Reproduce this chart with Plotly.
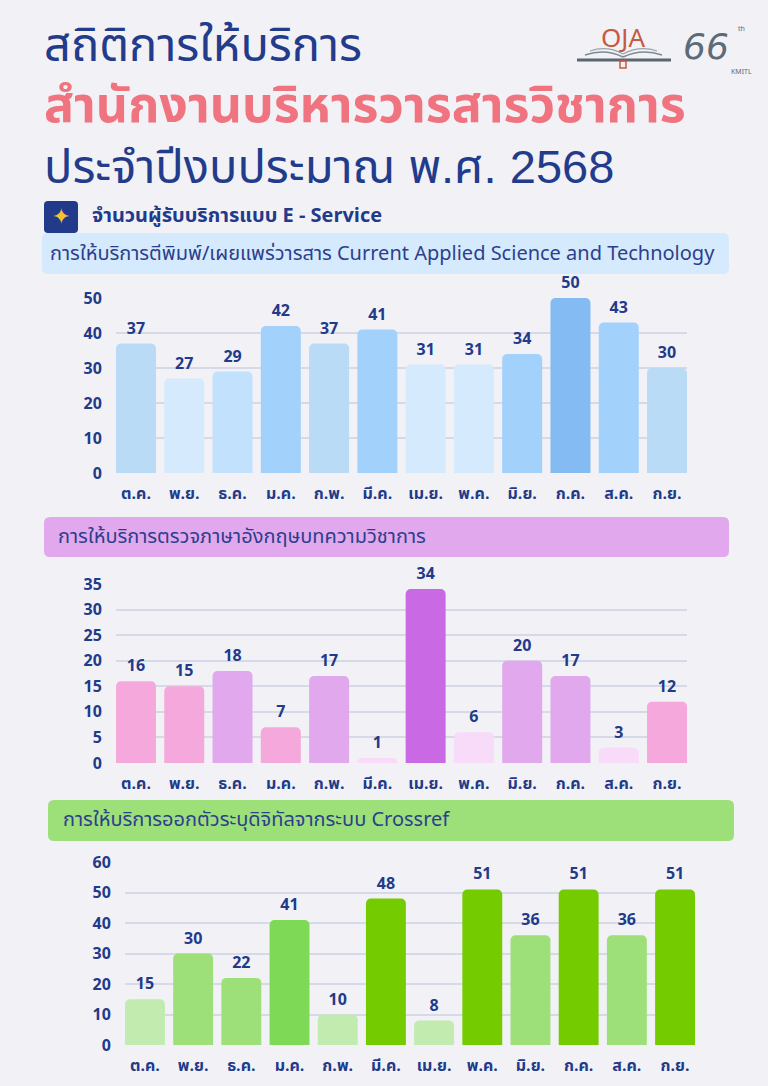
import plotly.graph_objects as go

W, H = 768, 1086

months = ["ต.ค.", "พ.ย.", "ธ.ค.", "ม.ค.", "ก.พ.", "มี.ค.", "เม.ย.", "พ.ค.", "มิ.ย.", "ก.ค.", "ส.ค.", "ก.ย."]

# การให้บริการตีพิมพ์/เผยแพร่วารสาร
journal_vals = [37, 27, 29, 42, 37, 41, 31, 31, 34, 50, 43, 30]
journal_cols = ["#b9dbf6", "#d6eafe", "#c2e1fd", "#a2d1fc", "#b9dbf6", "#a2d1fc",
                "#d6eafe", "#d6eafe", "#a2d1fc", "#84bbf2", "#a2d1fc", "#b9dbf6"]

# การตรวจภาษาอังกฤษ
english_vals = [16, 15, 18, 7, 17, 1, 34, 6, 20, 17, 3, 12]
english_cols = ["#f4a8dc", "#f4a8dc", "#e2a8ee", "#f4a8dc", "#e2a8ee", "#f8dbf9",
                "#c96ae4", "#f8dbf9", "#e2a8ee", "#e2a8ee", "#f8dbf9", "#f4a8dc"]

# Crossref DOI
doi_vals = [15, 30, 22, 41, 10, 48, 8, 51, 36, 51, 36, 51]
doi_cols = ["#c1ebaf", "#9de07a", "#9de07a", "#7ed957", "#c1ebaf", "#73cb00",
            "#c1ebaf", "#73cb00", "#9de07a", "#73cb00", "#9de07a", "#73cb00"]

NAVY = "#213a8a"
BG = "#f1f1f6"
FONT = "Noto Sans Thai, Kanit, Prompt, Noto Sans, sans-serif"
TITLE_FONT = "Liberation Sans, Noto Sans Thai, sans-serif"


def px(x):
    return x / W


def py(y):
    return 1 - y / H


def rounded_box(x0, y0, x1, y1, r, color):
    rx, ry = r / W, r / H
    a0, b0, a1, b1 = px(x0), py(y1), px(x1), py(y0)
    path = (f"M {a0+rx},{b0} L {a1-rx},{b0} Q {a1},{b0} {a1},{b0+ry} "
            f"L {a1},{b1-ry} Q {a1},{b1} {a1-rx},{b1} L {a0+rx},{b1} "
            f"Q {a0},{b1} {a0},{b1-ry} L {a0},{b0+ry} Q {a0},{b0} {a0+rx},{b0} Z")
    return dict(type="path", path=path, xref="paper", yref="paper",
                fillcolor=color, line=dict(width=0), layer="below")


fig = go.Figure()

charts = [
    (journal_vals, journal_cols, 116, 687, 473, 298, 50, 10),
    (english_vals, english_cols, 116, 687, 763, 584, 35, 5),
    (doi_vals, doi_cols, 125, 695, 1045, 862, 60, 10),
]

layout_axes = {}
for i, (vals, cols, xl, xr, y0, ytop, ymax, dt) in enumerate(charts, start=1):
    sfx = "" if i == 1 else str(i)
    fig.add_trace(go.Bar(
        x=months, y=vals, marker=dict(color=cols, line=dict(width=0)),
        text=[str(v) for v in vals], textposition="outside",
        textfont=dict(family=FONT, size=16, color=NAVY, weight="bold"),
        cliponaxis=False, xaxis="x" + sfx, yaxis="y" + sfx, hoverinfo="skip",
    ))
    g = 0.172
    layout_axes["xaxis" + sfx] = dict(
        domain=[px(xl), px(xr)], anchor="y" + sfx, type="category",
        range=[-(1 - g) / 2, 11 + (1 - g) / 2], showgrid=False, zeroline=False,
        showline=False, ticks="outside", ticklen=6, tickcolor="rgba(0,0,0,0)",
        tickfont=dict(family=FONT, size=16, color=NAVY, weight="bold"),
        fixedrange=True, automargin=False,
    )
    layout_axes["yaxis" + sfx] = dict(
        domain=[py(y0), py(ytop)], anchor="x" + sfx, range=[0, ymax], dtick=dt,
        showgrid=True, gridcolor="#d6d9e8", gridwidth=2, zeroline=False,
        showline=False, ticks="outside", ticklen=10, tickcolor="rgba(0,0,0,0)",
        tickfont=dict(family=FONT, size=16, color=NAVY, weight="bold"),
        fixedrange=True, automargin=False,
    )

shapes = [
    rounded_box(42, 233, 729, 274, 6, "#d6eafd"),
    rounded_box(44, 517, 729, 557, 6, "#e2a8ee"),
    rounded_box(48, 800, 734, 841, 6, "#9de07a"),
    rounded_box(44, 201, 78, 233, 4, "#213a8a"),
    # book logo lines
    dict(type="line", xref="paper", yref="paper", x0=px(577), x1=px(671), y0=py(60), y1=py(60),
         line=dict(color="#5a6670", width=3)),
    dict(type="path", xref="paper", yref="paper",
         path=f"M {px(585)},{py(55)} Q {px(605)},{py(48)} {px(623)},{py(57)}",
         line=dict(color="#7f8a93", width=1.5)),
    dict(type="path", xref="paper", yref="paper",
         path=f"M {px(623)},{py(57)} Q {px(642)},{py(48)} {px(662)},{py(55)}",
         line=dict(color="#7f8a93", width=1.5)),
    dict(type="path", xref="paper", yref="paper",
         path=f"M {px(590)},{py(51)} Q {px(607)},{py(45)} {px(623)},{py(54)}",
         line=dict(color="#9aa3ab", width=1.2)),
    dict(type="path", xref="paper", yref="paper",
         path=f"M {px(623)},{py(54)} Q {px(640)},{py(45)} {px(657)},{py(51)}",
         line=dict(color="#9aa3ab", width=1.2)),
    dict(type="rect", xref="paper", yref="paper", x0=px(620), x1=px(626), y0=py(68), y1=py(61),
         line=dict(color="#c65a40", width=1.5), fillcolor="rgba(0,0,0,0)"),
]

title_html = ("สถิติการให้บริการ<br>"
              "<b><span style='color:#f07480;font-size:50px'>สำนักงานบริหารวารสารวิชาการ</span></b><br>"
              "ประจำปีงบประมาณ พ.ศ. 2568")

annotations = [
    dict(text=title_html, x=px(42), y=py(106), xanchor="left", yanchor="middle", align="left",
         font=dict(family=TITLE_FONT, size=47, color="#233b8b")),
    dict(text="<b>จำนวนผู้รับบริการแบบ E - Service</b>", x=px(90), y=py(216), xanchor="left", yanchor="middle",
         font=dict(family=FONT, size=20, color=NAVY)),
    dict(text="✦", x=px(61), y=py(217), xanchor="center", yanchor="middle",
         font=dict(size=22, color="#f7c232")),
    dict(text="การให้บริการตีพิมพ์/เผยแพร่วารสาร Current Applied Science and Technology",
         x=px(48), y=py(254), xanchor="left", yanchor="middle",
         font=dict(family=FONT, size=20, color="#2c3f8c")),
    dict(text="การให้บริการตรวจภาษาอังกฤษบทความวิชาการ",
         x=px(56), y=py(537), xanchor="left", yanchor="middle",
         font=dict(family=FONT, size=20, color="#2c3f8c")),
    dict(text="การให้บริการออกตัวระบุดิจิทัลจากระบบ Crossref",
         x=px(61), y=py(820), xanchor="left", yanchor="middle",
         font=dict(family=FONT, size=20, color="#2c3f8c")),
    dict(text="OJA", x=px(623), y=py(37), xanchor="center", yanchor="middle",
         font=dict(family="Noto Sans", size=26, color="#c65a40")),
    dict(text="<i>66</i>", x=px(706), y=py(46), xanchor="center", yanchor="middle",
         font=dict(family="DejaVu Sans", size=36, color="#5d6b78")),
    dict(text="th", x=px(741), y=py(29), xanchor="center", yanchor="middle",
         font=dict(family="Noto Sans", size=7, color="#5d6b78")),
    dict(text="KMITL", x=px(741), y=py(71), xanchor="center", yanchor="middle",
         font=dict(family="Noto Sans", size=7, color="#5d6b78")),
]
for a in annotations:
    a.update(xref="paper", yref="paper", showarrow=False)

fig.update_layout(
    width=W, height=H, margin=dict(l=0, r=0, t=0, b=0, autoexpand=False),
    paper_bgcolor=BG, plot_bgcolor=BG, showlegend=False,
    bargap=0.172, barcornerradius=5,
    shapes=shapes, annotations=annotations,
    font=dict(family=FONT, color=NAVY),
    **layout_axes,
)

fig.write_html("out.html", config={"displayModeBar": False},
               post_script="document.body.style.margin='0';")
